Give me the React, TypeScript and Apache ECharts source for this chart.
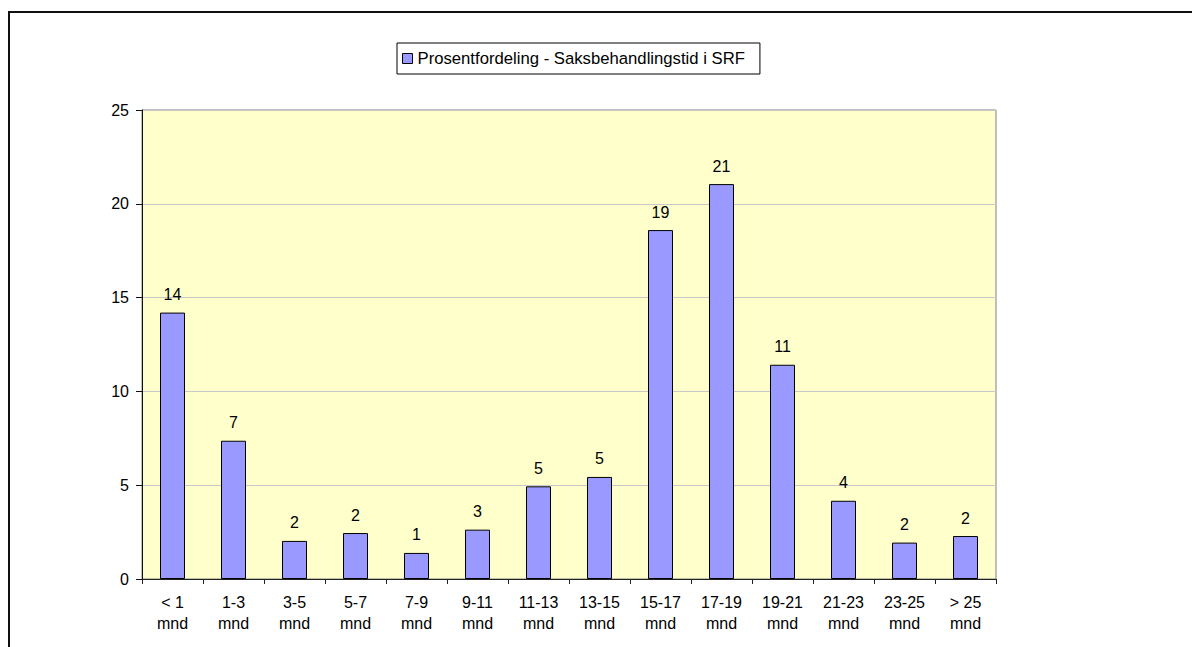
import React, { useEffect, useRef } from "react";
import * as echarts from "echarts";

const categories = ["< 1", "1-3", "3-5", "5-7", "7-9", "9-11", "11-13", "13-15", "15-17", "17-19", "19-21", "21-23", "23-25", "> 25"];
const unit = "mnd";
const values = [14.2, 7.37, 2.03, 2.45, 1.39, 2.63, 4.94, 5.44, 18.6, 21.05, 11.42, 4.17, 1.94, 2.29];
const seriesName = "Prosentfordeling - Saksbehandlingstid i SRF";
const yTicks = { min: 0, max: 25, interval: 5 };

const FONT = "'Liberation Sans', Arial, sans-serif";

export default function App() {
  const ref = useRef<HTMLDivElement>(null);
  useEffect(() => {
    if (!ref.current) return;
    const chart = echarts.init(ref.current, null, { renderer: "svg" });
    chart.setOption({
      animation: false,
      backgroundColor: "#ffffff",
      textStyle: { fontFamily: FONT },
      graphic: [
        {
          type: "polyline",
          shape: { points: [[9, 700], [9, 12], [1300, 12]] },
          style: { stroke: "#111", lineWidth: 2, fill: "none" },
          silent: true,
        },
      ],
      legend: {
        left: 397,
        top: 43,
        orient: "horizontal",
        padding: [7, 15, 7, 5],
        borderColor: "#000",
        borderWidth: 1,
        backgroundColor: "#fff",
        icon: "rect",
        itemWidth: 10,
        itemHeight: 10,
        itemStyle: { borderColor: "#000", borderWidth: 1 },
        textStyle: { fontFamily: FONT, fontSize: 16.7, color: "#000" },
        data: [seriesName],
      },
      grid: {
        left: 142,
        top: 110,
        width: 854,
        height: 469,
        show: true,
        backgroundColor: "#FFFFCC",
        borderColor: "#808080",
        borderWidth: 1,
      },
      xAxis: {
        type: "category",
        data: categories.map((c) => `${c}\n${unit}`),
        boundaryGap: true,
        axisLine: { show: true, lineStyle: { color: "#222", width: 1 } },
        axisTick: { show: true, length: 5, alignWithLabel: false, lineStyle: { color: "#222" } },
        axisLabel: {
          interval: 0,
          fontFamily: FONT,
          fontSize: 16,
          color: "#000",
          lineHeight: 21,
          margin: 13,
        },
        splitLine: { show: false },
      },
      yAxis: {
        type: "value",
        min: yTicks.min,
        max: yTicks.max,
        interval: yTicks.interval,
        axisLine: { show: true, lineStyle: { color: "#111", width: 1 } },
        axisTick: { show: true, length: 6, lineStyle: { color: "#111" } },
        axisLabel: { fontFamily: FONT, fontSize: 16, color: "#000", margin: 13 },
        splitLine: { show: true, lineStyle: { color: "#C8C8C8", width: 1 } },
      },
      series: [
        {
          name: seriesName,
          type: "bar",
          data: values,
          barWidth: 25,
          itemStyle: { color: "#9999FF", borderColor: "#000", borderWidth: 1 },
          label: {
            show: true,
            position: "top",
            distance: 10,
            fontFamily: FONT,
            fontSize: 16,
            color: "#000",
            formatter: (p: any) => String(Math.round(p.value)),
          },
        },
      ],
    });
    return () => chart.dispose();
  }, []);
  return (
    <div
      ref={ref}
      style={{ position: "fixed", left: 0, top: 0, width: 1192, height: 647 }}
    />
  );
}
